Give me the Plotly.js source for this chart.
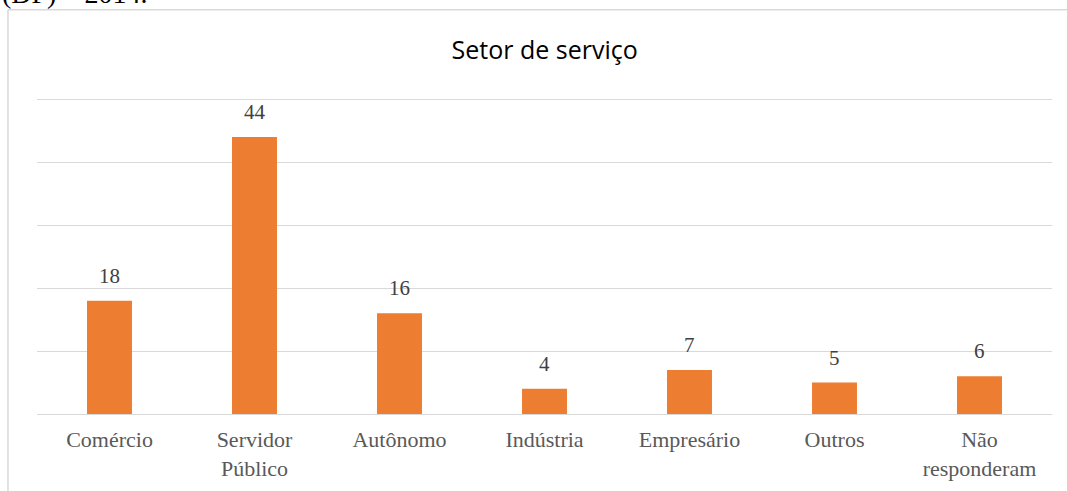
<!DOCTYPE html>
<html>
<head>
<meta charset="utf-8">
<script src="https://cdn.plot.ly/plotly-3.0.1.min.js"></script>
<style>html,body{margin:0;padding:0;background:#fff;}#chart{width:1067px;height:491px;}</style>
</head>
<body>
<div id="chart"></div>
<script>
const categories = ["Comércio", "Servidor<br>Público", "Autônomo", "Indústria", "Empresário", "Outros", "Não<br>responderam"];
const values = [18, 44, 16, 4, 7, 5, 6];
const chartTitle = "Setor de serviço";
const captionTail = "(DF) – 2014.";

const serif = "'Liberation Serif', 'Times New Roman', serif";

const trace = {
  type: "bar",
  x: categories,
  y: values,
  marker: {color: "#ED7D31"},
  hoverinfo: "none"
};

const labelAnns = categories.map((c, i) => ({
  x: c, y: values[i], xref: "x", yref: "y",
  text: String(values[i]), showarrow: false,
  yanchor: "middle", yshift: 25,
  font: {family: serif, size: 21, color: "#404040"}
}));

const layout = {
  width: 1067, height: 491,
  margin: {l: 37, r: 15, t: 98, b: 77},
  paper_bgcolor: "#fff", plot_bgcolor: "#fff",
  bargap: 0.69,
  showlegend: false,
  title: {text: chartTitle, font: {family: "'Open Sans', 'Liberation Sans', sans-serif", size: 25, color: "#000"}, x: 0.5105, xanchor: "center", y: 0.898, yanchor: "middle"},
  xaxis: {
    tickfont: {family: serif, size: 22, color: "#595959"},
    showline: true, linecolor: "#d9d9d9", linewidth: 1,
    ticks: "", showgrid: false, fixedrange: true, ticklabelstandoff: 6
  },
  yaxis: {
    range: [0, 50.2], tick0: 0, dtick: 10, showticklabels: false,
    showgrid: true, gridcolor: "#d9d9d9", gridwidth: 1,
    zeroline: false, showline: false, ticks: "", fixedrange: true
  },
  shapes: [
    {type: "line", xref: "paper", yref: "paper", x0: -0.0286, x1: -0.0286, y0: 1.2794, y1: -0.5, line: {color: "#d9d9d9", width: 1.5}},
    {type: "line", xref: "paper", yref: "paper", x0: -0.0286, x1: 1.2, y0: 1.2794, y1: 1.2794, line: {color: "#d9d9d9", width: 1.5}}
  ],
  annotations: labelAnns.concat([
    {xref: "paper", yref: "paper", x: -0.0365, y: 1.33, xanchor: "left", yanchor: "middle", text: captionTail, showarrow: false,
     font: {family: serif, size: 28, color: "#000"}}
  ])
};

Plotly.newPlot("chart", [trace], layout, {displayModeBar: false, staticPlot: true});
</script>
</body>
</html>
